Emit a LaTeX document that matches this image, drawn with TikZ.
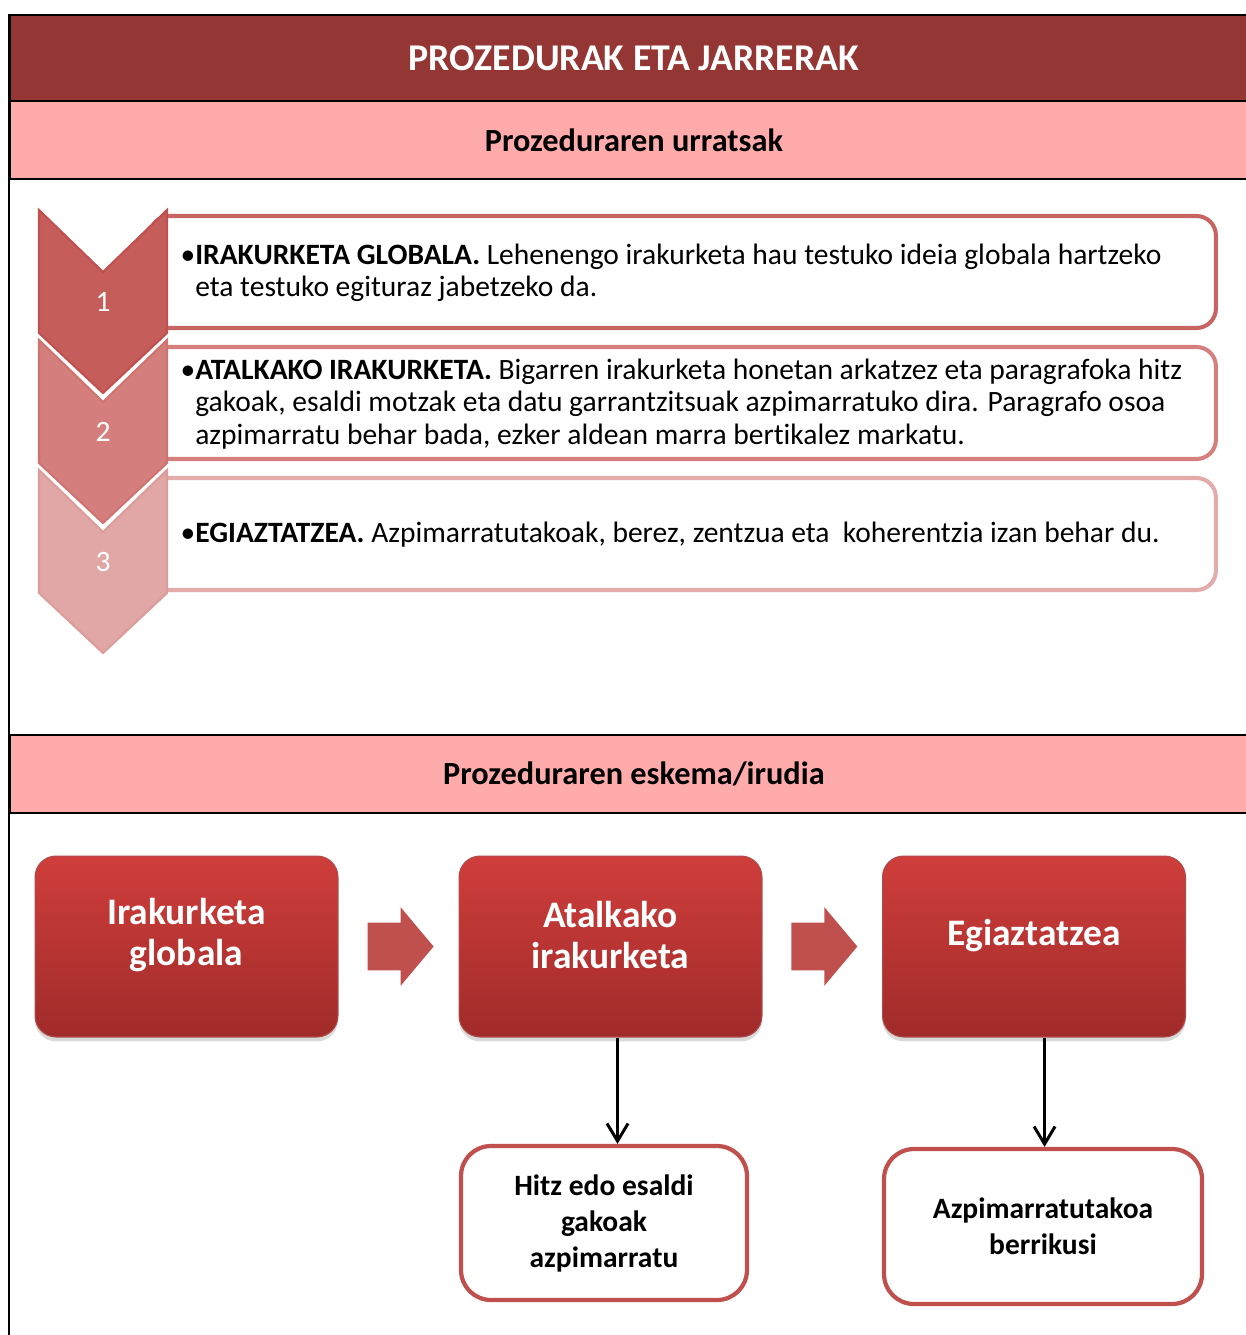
\documentclass[tikz,border=0pt]{standalone}
\usepackage{fontspec}
\setmainfont{Carlito}[Ligatures=NoCommon]
\usepackage{tikz}
\usetikzlibrary{arrows.meta, positioning, calc, shapes.arrows, shadows}
\definecolor{titlered}{HTML}{943634}
\definecolor{bandpink}{HTML}{FFABAB}
\definecolor{accent}{HTML}{C0504D}
\definecolor{chevA}{HTML}{C55D5B}
\definecolor{chevB}{HTML}{D47F7D}
\definecolor{chevC}{HTML}{E0A7A6}
\definecolor{edgeA}{HTML}{C0504D}
\definecolor{edgeB}{HTML}{CF7371}
\definecolor{edgeC}{HTML}{DB9C9A}
\definecolor{lineA}{HTML}{C86462}
\definecolor{lineB}{HTML}{D6807E}
\definecolor{lineC}{HTML}{E3ABAA}
\definecolor{boxtop}{HTML}{CF3E3B}
\definecolor{boxbot}{HTML}{A02B2A}

\begin{document}
\begin{tikzpicture}[
    x=0.02cm, y=-0.02cm,
    band/.style={draw=black, line width=1.2pt, minimum width=24.96cm, inner sep=0, anchor=north west},
    stepbox/.style={draw=#1, line width=2.3pt, rounded corners=11pt, fill=white, minimum width=21.32cm, minimum height=2.24cm, inner sep=0},
    steptext/.style={anchor=west, align=left, font=\fontsize{16.8}{18.3}\selectfont, inner sep=0},
    chevnum/.style={text=white, font=\fontsize{16.8}{18}\selectfont},
    redbox/.style={rounded corners=12pt, top color=boxtop, bottom color=boxbot, draw=boxbot!85, line width=0.6pt, minimum width=6.06cm, minimum height=3.62cm, drop shadow={opacity=0.3, shadow xshift=0pt, shadow yshift=-2.5pt}},
    redtext/.style={text=white, font=\fontsize{21.3}{23.3}\selectfont\bfseries, align=center},
    notebox/.style={draw=accent, line width=2.4pt, rounded corners=17pt, fill=white, font=\fontsize{16.8}{20.5}\selectfont\bfseries, align=center},
    blockarrow/.style={single arrow, fill=accent, draw=none, minimum height=1.32cm, inner xsep=0, inner ysep=0.47cm, text height=0pt, text depth=0pt, single arrow head extend=0.31cm, single arrow tip angle=100, xshift=-4.5pt},
    >={Straight Barb[length=10pt, width=12pt]}
]
\useasboundingbox (0,0) rectangle (1246,1335);
% header bands
\node[band, fill=titlered, minimum height=1.72cm, text=white, font=\fontsize{21.5}{24}\selectfont\bfseries] (title) at (9,14) {PROZEDURAK ETA JARRERAK};
\node[band, fill=bandpink, minimum height=1.56cm, font=\fontsize{18.4}{20}\selectfont\bfseries] (steps) at (9,100) {Prozeduraren urratsak};
\node[band, fill=bandpink, minimum height=1.56cm, font=\fontsize{18.4}{20}\selectfont\bfseries] (scheme) at (9,734) {Prozeduraren eskema/irudia};
\draw[line width=1.2pt] (title.north west) -- (9,1335);

% step boxes
\node[stepbox=lineA] (b1) at (683,272) {};
\node[stepbox=lineB] (b2) at (683,403) {};
\node[stepbox=lineC] (b3) at (683,534) {};
\node[steptext] (t1) at (195,273) {\llap{\textbullet}\textbf{IRAKURKETA GLOBALA.} Lehenengo irakurketa hau testuko ideia globala hartzeko\\eta testuko egituraz jabetzeko da.};
\node[steptext] (t2) at (195,404) {\llap{\textbullet}\textbf{ATALKAKO IRAKURKETA.} Bigarren irakurketa honetan arkatzez eta paragrafoka hitz\\gakoak, esaldi motzak eta datu garrantzitsuak azpimarratuko dira. Paragrafo osoa\\azpimarratu behar bada, ezker aldean marra bertikalez markatu.};
\node[steptext] (t3) at (195,535) {\llap{\textbullet}\textbf{EGIAZTATZEA.} Azpimarratutakoak, berez, zentzua eta \ koherentzia izan behar du.};

% chevrons
\foreach \i/\y/\col in {3/470/C, 2/340/B, 1/210/A} {
  \filldraw[fill=chev\col, draw=edge\col, line width=1.2pt]
    (39,\y) -- (103,\y+62) -- (167,\y) -- (167,\y+123) -- (103,\y+183) -- (39,\y+123) -- cycle;
  \node[chevnum] (n\i) at (103,\y+92) {\i};
}

% scheme
\node[redbox] (ga) at (186.5,946.5) {};
\node[redbox] (ab) at (610.5,946.5) {};
\node[redbox] (eg) at (1034,946.5) {};
\node[redtext] (ga-t) at ([yshift=6.5pt]ga.center) {Irakurketa\\globala};
\node[redtext] (ab-t) at ([yshift=6.5pt]ab.center) {Atalkako\\irakurketa};
\node[redtext] (eg-t) at ([yshift=6.5pt]eg.center) {Egiaztatzea};
\node[blockarrow] (ar1) at ($(ga.east)!0.5!(ab.west)$) {};
\node[blockarrow] (ar2) at ($(ab.east)!0.5!(eg.west)$) {};

\node[notebox, minimum width=5.72cm, minimum height=3.08cm] (hd) at (604,1223) {Hitz edo esaldi\\gakoak\\azpimarratu};
\node[notebox, minimum width=6.36cm, minimum height=3.1cm] (az) at (1043,1226.5) {Azpimarratutakoa\\berrikusi};
\draw[->, line width=1.7pt] ([xshift=4pt]ab.south) -- ([xshift=4pt]ab.south |- hd.north);
\draw[->, line width=1.7pt] ([xshift=6pt]eg.south) -- ([xshift=6pt]eg.south |- az.north);
\end{tikzpicture}
\end{document}
